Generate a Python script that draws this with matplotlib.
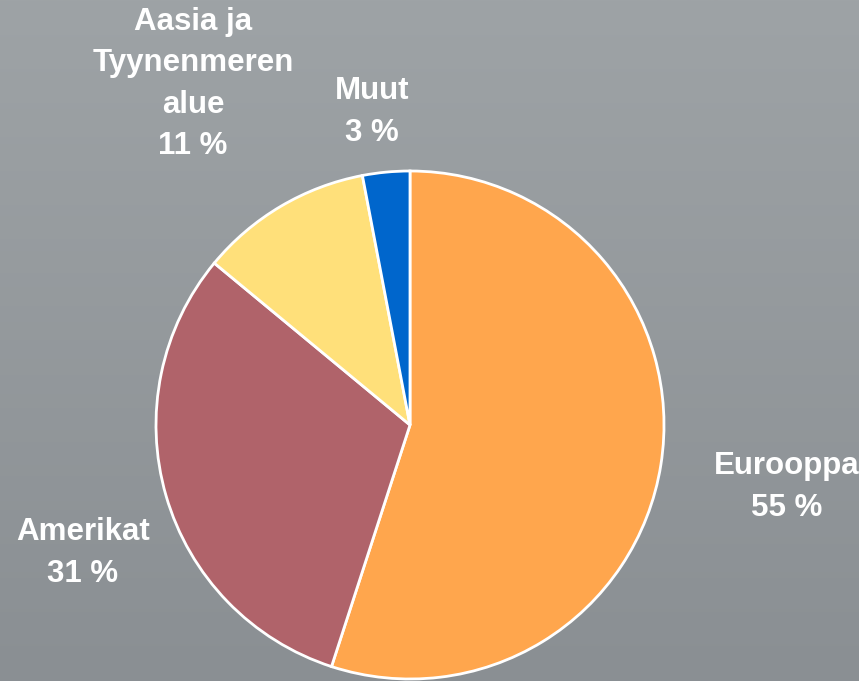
import numpy as np
import matplotlib
matplotlib.use("Agg")
import matplotlib.pyplot as plt
from matplotlib.colors import LinearSegmentedColormap

categories = ["Eurooppa", "Amerikat", "Aasia ja\nTyynenmeren\nalue", "Muut"]
values = [55, 31, 11, 3]
colors = ["#FFA64D", "#B0636A", "#FFE07A", "#0066CC"]

W, H = 859, 681
fig = plt.figure(figsize=(W / 100, H / 100), dpi=100)

# gradient background
bg = fig.add_axes([0, 0, 1, 1], zorder=0)
cmap = LinearSegmentedColormap.from_list("bg", ["#9EA3A6", "#8A8F93"])
grad = np.linspace(0, 1, 256).reshape(-1, 1)
bg.imshow(grad, aspect="auto", cmap=cmap, extent=[0, 1, 0, 1], origin="upper")
bg.set_axis_off()

cx, cy, r = 410, 425, 254
ax = fig.add_axes([(cx - r) / W, (H - cy - r) / H, 2 * r / W, 2 * r / H], zorder=1)
ax.pie(values, colors=colors, startangle=90, counterclock=False,
       wedgeprops=dict(edgecolor="white", linewidth=2))
ax.set_xlim(-1.0, 1.0)
ax.set_ylim(-1.0, 1.0)
ax.set_axis_off()

label_pos = [(787, 487), (83, 553), (193, 84), (372, 112)]
for cat, v, (x, y) in zip(categories, values, label_pos):
    fig.text(x / W, 1 - y / H, f"{cat}\n{v} %", ha="center", va="center",
             color="white", fontsize=22.5, fontweight="bold",
             family="Liberation Sans", linespacing=1.5, zorder=5)

fig.savefig("out.png", dpi=100)
